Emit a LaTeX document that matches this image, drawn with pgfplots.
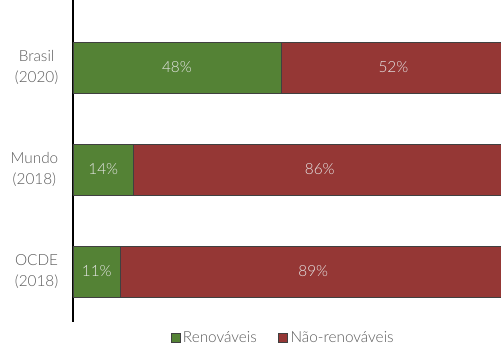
\documentclass[border=0pt]{standalone}
\usepackage{pgfplots}
\pgfplotsset{compat=1.18}
\usepackage{fontspec}
\setmainfont{Lato Light}
\definecolor{ren}{HTML}{548235}
\definecolor{nren}{HTML}{953735}
\definecolor{lab}{HTML}{5A5A5A}
\begin{document}
\begin{tikzpicture}
\useasboundingbox (-54.75pt,-17.25pt) rectangle (321pt,241.5pt);
\pgfplotsset{
  common/.style={
    scale only axis,
    width=324.75pt, height=241.5pt,
    at={(0,0)}, anchor=south west,
    xmin=0, xmax=100,
    ymin=-0.495, ymax=2.662,
    ytick={0,1,2},
    major tick length=0pt,
    font=\fontsize{11.5}{15.5}\selectfont,
  }
}
\begin{axis}[common,
  xbar stacked,
  bar width=38.25pt,
  axis x line=none,
  axis y line=left,
  y axis line style={-, line width=1.1pt, black},
  xtick=\empty,
  yticklabels={{OCDE\\(2018)},{Mundo\\(2018)},{Brasil\\(2020)}},
  yticklabel style={align=center, text=lab, xshift=-7.5pt},
  legend columns=2,
  legend style={at={(0.486,-0.05)}, anchor=center, draw=none, fill=none,
    inner sep=0pt, text=lab,
    /tikz/every even column/.append style={column sep=14pt},
    font=\fontsize{11.5}{13}\selectfont},
  legend image code/.code={\draw[#1, line width=0.5pt] (0pt,-3.4pt) rectangle (6.8pt,3.4pt);},
]
\addplot[fill=ren, draw=black!75, line width=0.5pt] coordinates {(48,2) (14,1) (11,0)};
\addlegendentry{Renováveis}
\addplot[fill=nren, draw=black!75, line width=0.5pt] coordinates {(52,2) (86,1) (89,0)};
\addlegendentry{Não-renováveis}
\end{axis}
\begin{axis}[common, hide axis]
\addplot[only marks, mark=none, nodes near coords, point meta=explicit symbolic,
  nodes near coords align=center,
  every node near coord/.append style={anchor=center, text=white!85!lab, font=\fontsize{11.5}{13}\selectfont}]
  coordinates {(24,2) [48\%] (74,2) [52\%] (7,1) [14\%] (57,1) [86\%] (5.5,0) [11\%] (55.5,0) [89\%]};
\end{axis}
\end{tikzpicture}
\end{document}
